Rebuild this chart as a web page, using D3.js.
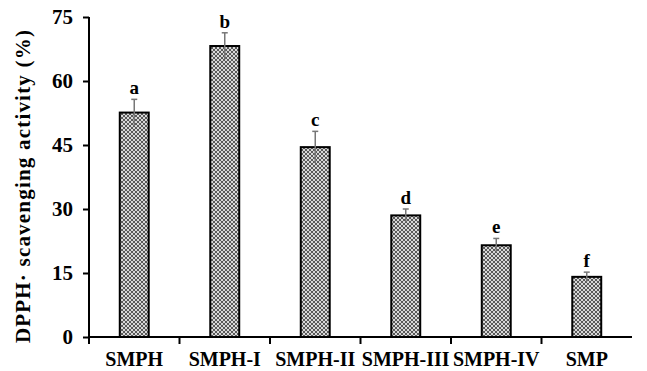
<!DOCTYPE html>
<html>
<head>
<meta charset="utf-8">
<script src="https://cdn.jsdelivr.net/npm/d3@7"></script>
<style>
  body { margin: 0; background: #fff; }
  text { font-family: "Liberation Serif", "Times New Roman", serif; font-weight: bold; fill: #000; }
</style>
</head>
<body>
<svg class="chart"></svg>
<script>
const categories = ['SMPH', 'SMPH-I', 'SMPH-II', 'SMPH-III', 'SMPH-IV', 'SMP'];
const values = [52.6, 68.2, 44.5, 28.5, 21.5, 14.1];
const errors = [3.1, 3.1, 3.7, 1.5, 1.6, 1.1];
const letters = ['a', 'b', 'c', 'd', 'e', 'f'];
const yTicks = [0, 15, 30, 45, 60, 75];

const config = {
    svg: { width: 647, height: 371 },
    margin: { left: 89, top: 17, right: 15, bottom: 34 }
};

let svg = d3.select('.chart')
    .attr('width', config.svg.width)
    .attr('height', config.svg.height);

// checker fill like the excel pattern
let defs = svg.append('defs');
let pat = defs.append('pattern')
    .attr('id', 'checker')
    .attr('patternUnits', 'userSpaceOnUse')
    .attr('width', 4).attr('height', 4);
pat.append('rect').attr('width', 4).attr('height', 4).attr('fill', '#d8d8d8');
pat.append('rect').attr('x', 0).attr('y', 0).attr('width', 2).attr('height', 2).attr('fill', '#5a5a5a');
pat.append('rect').attr('x', 2).attr('y', 2).attr('width', 2).attr('height', 2).attr('fill', '#5a5a5a');

let plotW = 632 - config.margin.left;
let plotH = 337 - config.margin.top;

let g = svg.append('g')
    .attr('transform', `translate(${config.margin.left},${config.margin.top})`);

let x = d3.scaleBand()
    .domain(categories)
    .range([0, plotW])
    .paddingInner(0.68)
    .paddingOuter(0.34);

let y = d3.scaleLinear()
    .domain([0, 75])
    .range([plotH, 0]);

// bars
g.selectAll('.bar')
    .data(values)
    .enter().append('rect')
    .attr('class', 'bar')
    .attr('x', (d, i) => x(categories[i]))
    .attr('y', d => y(d))
    .attr('width', x.bandwidth())
    .attr('height', d => plotH - y(d))
    .attr('fill', 'url(#checker)')
    .attr('stroke', '#000')
    .attr('stroke-width', 2);

// error bars
let eb = g.selectAll('.err')
    .data(values)
    .enter().append('g')
    .attr('class', 'err')
    .attr('stroke', '#777')
    .attr('stroke-width', 1.5);
eb.append('line')
    .attr('x1', (d, i) => x(categories[i]) + x.bandwidth() / 2)
    .attr('x2', (d, i) => x(categories[i]) + x.bandwidth() / 2)
    .attr('y1', (d, i) => y(d - errors[i]))
    .attr('y2', (d, i) => y(d + errors[i]));
eb.append('line')
    .attr('x1', (d, i) => x(categories[i]) + x.bandwidth() / 2 - 3)
    .attr('x2', (d, i) => x(categories[i]) + x.bandwidth() / 2 + 3)
    .attr('y1', (d, i) => y(d + errors[i]))
    .attr('y2', (d, i) => y(d + errors[i]));

// significance letters
g.selectAll('.letter')
    .data(letters)
    .enter().append('text')
    .attr('x', (d, i) => x(categories[i]) + x.bandwidth() / 2)
    .attr('y', (d, i) => y(values[i] + errors[i]) - 5)
    .attr('text-anchor', 'middle')
    .style('font-size', '19px')
    .text(d => d);

// y axis
let yAxis = g.append('g')
    .call(d3.axisLeft(y).tickValues(yTicks).tickSize(6).tickPadding(10));
yAxis.select('.domain').attr('stroke', '#000').attr('stroke-width', 2)
    .attr('d', `M0,${plotH}V0`);
yAxis.selectAll('.tick line').attr('stroke', '#000').attr('stroke-width', 2);
yAxis.selectAll('.tick text')
    .style('font-size', '21px')
    .style('font-family', '"Liberation Serif", serif')
    .style('font-weight', 'bold')
    .attr('fill', '#000');

// x axis with ticks between categories
let xAxis = g.append('g').attr('transform', `translate(0,${plotH})`);
xAxis.append('line')
    .attr('x1', 0).attr('x2', plotW)
    .attr('y1', 0).attr('y2', 0)
    .attr('stroke', '#000').attr('stroke-width', 2);
xAxis.selectAll('.sep')
    .data(categories)
    .enter().append('line')
    .attr('x1', d => x(d) - x.step() * x.paddingInner() / 2)
    .attr('x2', d => x(d) - x.step() * x.paddingInner() / 2)
    .attr('y1', 0).attr('y2', 7)
    .attr('stroke', '#000').attr('stroke-width', 2);
xAxis.selectAll('.cat')
    .data(categories)
    .enter().append('text')
    .attr('x', d => x(d) + x.bandwidth() / 2)
    .attr('y', 29)
    .attr('text-anchor', 'middle')
    .style('font-size', '20px')
    .text(d => d);

// y title
svg.append('text')
    .attr('transform', `translate(30,186) rotate(-90)`)
    .attr('text-anchor', 'middle')
    .style('font-size', '21px')
    .style('letter-spacing', '1.2px')
    .text('DPPH· scavenging activity (%)');
</script>
</body>
</html>
